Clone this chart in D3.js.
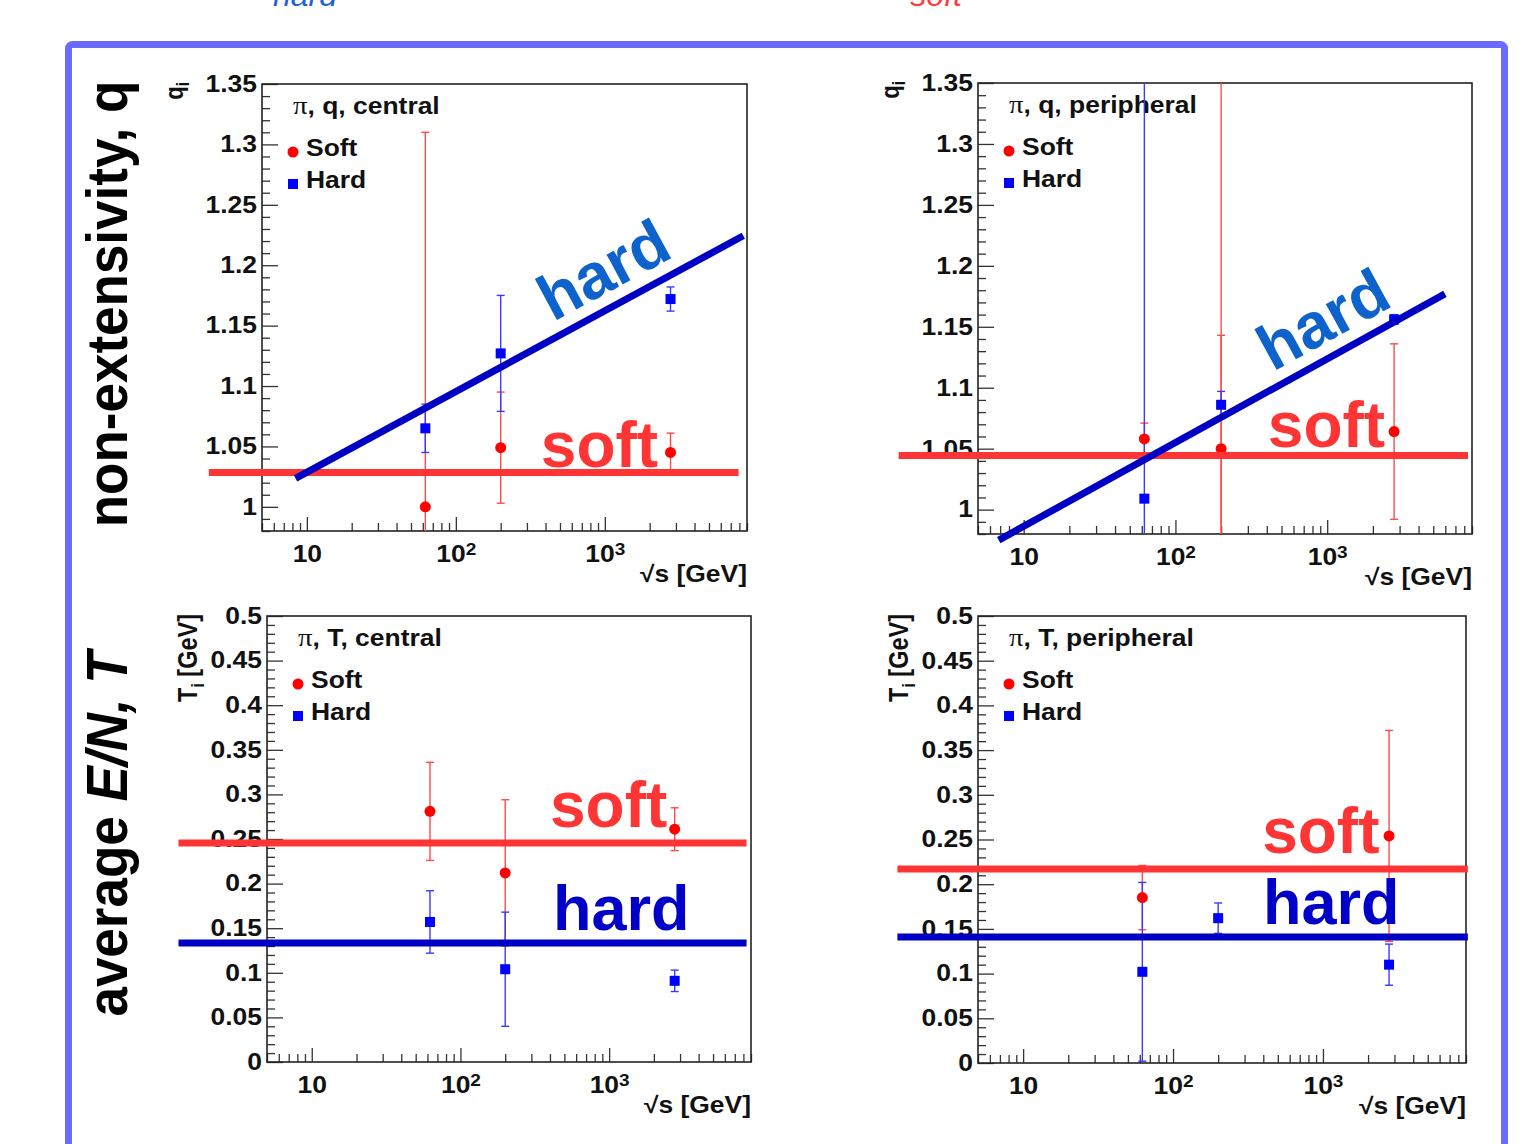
<!DOCTYPE html>
<html><head><meta charset="utf-8">
<script src="https://cdn.jsdelivr.net/npm/d3@7"></script>
<style>
body{margin:0;background:#fff;}
svg{display:block;}
text{font-family:"Liberation Sans",Arial,sans-serif;}
</style></head><body>
<svg id="chart" width="1525" height="1144"></svg>
<script>
// ---------------- data ----------------
const energies = [62.4, 200, 2760];           // sqrt(s) [GeV]
const xDomain = [5, 9000];
const xMajorTicks = [10, 100, 1000];
const xTickBase = ["10", "10", "10"];
const xTickExp = ["", "2", "3"];

const qTicks = [1, 1.05, 1.1, 1.15, 1.2, 1.25, 1.3, 1.35];
const qTickLabels = ["1", "1.05", "1.1", "1.15", "1.2", "1.25", "1.3", "1.35"];
const TTicks = [0, 0.05, 0.1, 0.15, 0.2, 0.25, 0.3, 0.35, 0.4, 0.45, 0.5];
const TTickLabels = ["0", "0.05", "0.1", "0.15", "0.2", "0.25", "0.3", "0.35", "0.4", "0.45", "0.5"];

// q, central
const qCentralSoft = [1.000, 1.049, 1.045];
const qCentralSoftErr = [0.31, 0.046, 0.016];
const qCentralHard = [1.065, 1.127, 1.172];
const qCentralHardErr = [0.020, 0.048, 0.010];
// q, peripheral
const qPeriphSoft = [1.058, 1.050, 1.064];
const qPeriphSoftErr = [0.013, 0.093, 0.072];
const qPeriphSoftSysErr = [null, 0.40, null];
const qPeriphHard = [1.009, 1.086, 1.156];
const qPeriphHardErr = [0.40, 0.011, 0.004];
// T, central
const TCentralSoft = [0.281, 0.212, 0.261];
const TCentralSoftErr = [0.055, 0.082, 0.024];
const TCentralHard = [0.157, 0.104, 0.091];
const TCentralHardErr = [0.035, 0.064, 0.012];
// T, peripheral
const TPeriphSoft = [0.185, null, 0.254];
const TPeriphSoftErr = [0.036, null, 0.118];
const TPeriphHard = [0.102, 0.162, 0.110];
const TPeriphHardErr = [0.100, 0.017, 0.023];

// hand-drawn trend lines (data coordinates: sqrt(s), value)
const qCentralSoftLineX = [2.2, 7900];
const qCentralSoftLineY = [1.0285, 1.0285];
const qCentralHardLineX = [8.4, 8500];
const qCentralHardLineY = [1.0235, 1.2244];
const qPeriphSoftLineX = [1.5, 8470];
const qPeriphSoftLineY = [1.0444, 1.0444];
const qPeriphHardLineX = [6.85, 5970];
const qPeriphHardLineY = [0.975, 1.177];
const TCentralSoftLineX = [1.27, 8400];
const TCentralSoftLineY = [0.2455, 0.2455];
const TCentralHardLineX = [1.27, 8400];
const TCentralHardLineY = [0.1334, 0.1334];
const TPeriphSoftLineX = [1.45, 9260];
const TPeriphSoftLineY = [0.217, 0.217];
const TPeriphHardLineX = [1.45, 9260];
const TPeriphHardLineY = [0.141, 0.141];

// ---------------- layout ----------------
const SX = 1.15;   // horizontal stretch of the embedded ROOT plots' text
const RED = "#ff0000", BLUE = "#0000ff";
const LINE_RED = "#ff3434", LINE_BLUE = "#0000c4";

const panels = [
  {id:1, box:[262,84,747,531], yDomain:[0.98,1.35], yTicks:qTicks, yLabels:qTickLabels,
   yTitle:["q","i",""], titleText:", q, central",
   soft:qCentralSoft, softErr:qCentralSoftErr, softSys:null,
   hard:qCentralHard, hardErr:qCentralHardErr,
   softLine:[qCentralSoftLineX,qCentralSoftLineY], hardLine:[qCentralHardLineX,qCentralHardLineY],
   softLabel:{x:372,y:1.033,rot:0,size:64}, hardLabel:{x:449,y:1.153,rot:-28.4,size:64,color:"#0d62cc"}},
  {id:2, box:[978,83,1472,534], yDomain:[0.98,1.35], yTicks:qTicks, yLabels:qTickLabels,
   yTitle:["q","i",""], titleText:", q, peripheral",
   soft:qPeriphSoft, softErr:qPeriphSoftErr, softSys:qPeriphSoftSysErr,
   hard:qPeriphHard, hardErr:qPeriphHardErr,
   softLine:[qPeriphSoftLineX,qPeriphSoftLineY], hardLine:[qPeriphHardLineX,qPeriphHardLineY],
   softLabel:{x:406,y:1.0514,rot:0,size:64}, hardLabel:{x:438,y:1.113,rot:-28.7,size:64,color:"#0d62cc"}},
  {id:3, box:[267,616,751,1062], yDomain:[0,0.5], yTicks:TTicks, yLabels:TTickLabels,
   yTitle:["T","i"," [GeV]"], titleText:", T, central",
   soft:TCentralSoft, softErr:TCentralSoftErr, softSys:null,
   hard:TCentralHard, hardErr:TCentralHardErr,
   softLine:[TCentralSoftLineX,TCentralSoftLineY], hardLine:[TCentralHardLineX,TCentralHardLineY],
   softLabel:{x:400,y:0.2635,rot:0,size:64}, hardLabel:{x:419,y:0.148,rot:0,size:63,color:"#0000c8"}},
  {id:4, box:[978,616,1466,1063], yDomain:[0,0.5], yTicks:TTicks, yLabels:TTickLabels,
   yTitle:["T","i"," [GeV]"], titleText:", T, peripheral",
   soft:TPeriphSoft, softErr:TPeriphSoftErr, softSys:null,
   hard:TPeriphHard, hardErr:TPeriphHardErr,
   softLine:[TPeriphSoftLineX,TPeriphSoftLineY], hardLine:[TPeriphHardLineX,TPeriphHardLineY],
   softLabel:{x:393,y:0.235,rot:0,size:64}, hardLabel:{x:398,y:0.1555,rot:0,size:63,color:"#0000c8"}}
];

const svg = d3.select("#chart");
svg.append("rect").attr("width",1525).attr("height",1144).attr("fill","#fff");

// slide text at the very top (cut off by the slide edge, as in the source)
svg.append("text").attr("x",305).attr("y",6).attr("text-anchor","middle")
  .attr("font-size",32).attr("font-style","italic").attr("fill","#1f62d2").text("hard");
svg.append("text").attr("x",936).attr("y",6).attr("text-anchor","middle")
  .attr("font-size",32).attr("font-style","italic").attr("fill","#ff3b3b").text("soft");

// slide frame
svg.append("rect").attr("x",68.5).attr("y",44.5).attr("width",1436).attr("height",1160)
  .attr("rx",4).attr("fill","none").attr("stroke","#6a6aff").attr("stroke-width",7);

// left row labels
svg.append("text").attr("transform","translate(127,304) rotate(-90) scale(1,1.09)")
  .attr("text-anchor","middle").attr("font-size",53).attr("font-weight","bold").attr("fill","#000")
  .text("non-extensivity, q");
const avg = svg.append("text").attr("transform","translate(127,834) rotate(-90) scale(1,1.09)")
  .attr("text-anchor","middle").attr("font-size",53).attr("font-weight","bold").attr("fill","#000");
avg.append("tspan").text("average ");
avg.append("tspan").attr("font-style","italic").text("E/N, T");

function stretch(sel, k){
  sel.each(function(){
    const t = d3.select(this);
    const x = +t.attr("x") || 0, y = +t.attr("y") || 0;
    t.attr("x",0).attr("y",0).attr("transform",`translate(${x},${y}) scale(${k},1)`);
  });
}

function minorRange(lo, hi, step, majors){
  const out = [];
  for (let i = Math.round(lo/step); i <= Math.round(hi/step); i++){
    const v = +(i*step).toFixed(4);
    if (v < lo - 1e-9 || v > hi + 1e-9) continue;
    if (!majors.some(m => Math.abs(m - v) < 1e-9)) out.push(v);
  }
  return out;
}
const xMinor = [];
[1,10,100,1000].forEach(dec => { for (let k=2;k<=9;k++){ const v=k*dec; if (v>=xDomain[0] && v<=xDomain[1]) xMinor.push(v);} });

function drawPanel(p){
  const [L,T,R,B] = p.box;
  const x = d3.scaleLog().domain(xDomain).range([L,R]);
  const y = d3.scaleLinear().domain(p.yDomain).range([B,T]);
  const g = svg.append("g");
  const clipId = "clip" + p.id;
  svg.append("clipPath").attr("id",clipId).append("rect")
    .attr("x",L).attr("y",T).attr("width",R-L).attr("height",B-T);

  const tickStyle = s => { s.select(".domain").remove(); s.selectAll("line").attr("stroke","#333").attr("stroke-width",1.3); };

  // y axis
  const yMinor = minorRange(p.yDomain[0], p.yDomain[1], 0.01, p.yTicks);
  g.append("g").attr("transform",`translate(${L},0)`)
    .call(d3.axisLeft(y).tickValues(yMinor).tickSize(-8).tickFormat("")).call(tickStyle);
  const ya = g.append("g").attr("transform",`translate(${L},0)`)
    .call(d3.axisLeft(y).tickValues(p.yTicks).tickSizeInner(-16).tickSizeOuter(0).tickPadding(5)
      .tickFormat((d,i)=>p.yLabels[i])).call(tickStyle);
  ya.attr("font-family",null).attr("font-size",null);
  ya.selectAll("text").attr("font-size",23).attr("font-weight","bold").attr("fill","#111");
  stretch(ya.selectAll("text"), SX);

  // x axis
  g.append("g").attr("transform",`translate(0,${B})`)
    .call(d3.axisBottom(x).tickValues(xMinor).tickSize(-8).tickFormat("")).call(tickStyle);
  const xa = g.append("g").attr("transform",`translate(0,${B})`)
    .call(d3.axisBottom(x).tickValues(xMajorTicks).tickSizeInner(-14).tickSizeOuter(0).tickPadding(15)
      .tickFormat((d,i)=>xTickBase[i])).call(tickStyle);
  xa.attr("font-family",null).attr("font-size",null);
  xa.selectAll("text").attr("font-size",23).attr("font-weight","bold").attr("fill","#111")
    .each(function(d,i){
      if (xTickExp[i]) d3.select(this).append("tspan").attr("dy","-0.45em").attr("font-size","0.72em").text(xTickExp[i]);
    });
  stretch(xa.selectAll("text"), SX);

  // frame
  g.append("rect").attr("x",L).attr("y",T).attr("width",R-L).attr("height",B-T)
    .attr("fill","none").attr("stroke","#222").attr("stroke-width",1.6);

  // axis titles
  g.append("text").attr("transform",`translate(${R},${B+51}) scale(${SX},1)`).attr("text-anchor","end")
    .attr("font-size",23).attr("font-weight","bold").attr("fill","#111").text("√s [GeV]");

  const isQ = p.yTitle[2] === "";
  const bx = isQ ? L-79 : L-70;
  const yt = g.append("text").attr("transform",`translate(${bx},${T-2}) rotate(-90) scale(1,${SX})`)
    .attr("text-anchor","end").attr("font-size",isQ?22:23.5).attr("font-weight","bold").attr("fill","#111");
  yt.append("tspan").text(p.yTitle[0]);
  yt.append("tspan").attr("font-size","0.7em").attr("dy","0.35em").text(p.yTitle[1]);
  if (p.yTitle[2]) yt.append("tspan").attr("dy","-0.245em").text(p.yTitle[2]);

  // legend
  const lg = g.append("g");
  const title = lg.append("text").attr("transform",`translate(${L+31},${T+30}) scale(${SX},1)`)
    .attr("font-size",23).attr("font-weight","bold").attr("fill","#111");
  title.append("tspan").attr("font-family","'Liberation Serif',serif").attr("font-weight","normal").attr("font-size",25).text("π");
  title.append("tspan").text(p.titleText);
  lg.append("circle").attr("cx",L+31).attr("cy",T+68).attr("r",5.5).attr("fill",RED);
  lg.append("text").attr("transform",`translate(${L+44},${T+72}) scale(${SX},1)`)
    .attr("font-size",23).attr("font-weight","bold").attr("fill","#111").text("Soft");
  lg.append("rect").attr("x",L+26).attr("y",T+95).attr("width",10).attr("height",10).attr("fill",BLUE);
  lg.append("text").attr("transform",`translate(${L+44},${T+104}) scale(${SX},1)`)
    .attr("font-size",23).attr("font-weight","bold").attr("fill","#111").text("Hard");

  // data
  const dg = g.append("g").attr("clip-path",`url(#${clipId})`);
  function errBars(vals, errs, color){
    energies.forEach((e,i) => {
      if (vals[i] == null || errs[i] == null) return;
      const cx = x(e), lo = vals[i]-errs[i], hi = vals[i]+errs[i];
      dg.append("line").attr("x1",cx).attr("x2",cx).attr("y1",y(lo)).attr("y2",y(hi))
        .attr("stroke",color).attr("stroke-width",1.4);
      [lo,hi].forEach(v => {
        if (v >= p.yDomain[0] && v <= p.yDomain[1])
          dg.append("line").attr("x1",cx-4).attr("x2",cx+4).attr("y1",y(v)).attr("y2",y(v))
            .attr("stroke",color).attr("stroke-width",1.4);
      });
    });
  }
  if (p.softSys) errBars(p.soft, p.softSys, "#ff4a4a");
  errBars(p.soft, p.softErr, "#ff4a4a");
  errBars(p.hard, p.hardErr, "#3a3aff");
  energies.forEach((e,i) => {
    if (p.soft[i] != null)
      dg.append("circle").attr("cx",x(e)).attr("cy",y(p.soft[i])).attr("r",5.5).attr("fill",RED);
    if (p.hard[i] != null)
      dg.append("rect").attr("x",x(e)-5).attr("y",y(p.hard[i])-5).attr("width",10).attr("height",10).attr("fill",BLUE);
  });

  // hand-drawn trend lines and labels (overlay, unclipped)
  const og = svg.append("g");
  const ln = d3.line().x(d=>x(d[0])).y(d=>y(d[1]));
  og.append("path").attr("d", ln(d3.zip(p.softLine[0], p.softLine[1])))
    .attr("stroke",LINE_RED).attr("stroke-width",7).attr("fill","none");
  og.append("path").attr("d", ln(d3.zip(p.hardLine[0], p.hardLine[1])))
    .attr("stroke",LINE_BLUE).attr("stroke-width",7).attr("fill","none");
  og.append("text").attr("transform",`translate(${x(p.softLabel.x)},${y(p.softLabel.y)}) rotate(${p.softLabel.rot})`)
    .attr("font-size",p.softLabel.size).attr("font-weight","bold").attr("fill",LINE_RED).text("soft");
  og.append("text").attr("transform",`translate(${x(p.hardLabel.x)},${y(p.hardLabel.y)}) rotate(${p.hardLabel.rot})`)
    .attr("font-size",p.hardLabel.size).attr("font-weight","bold").attr("fill",p.hardLabel.color).text("hard");
}

panels.forEach(drawPanel);
</script>
</body></html>
